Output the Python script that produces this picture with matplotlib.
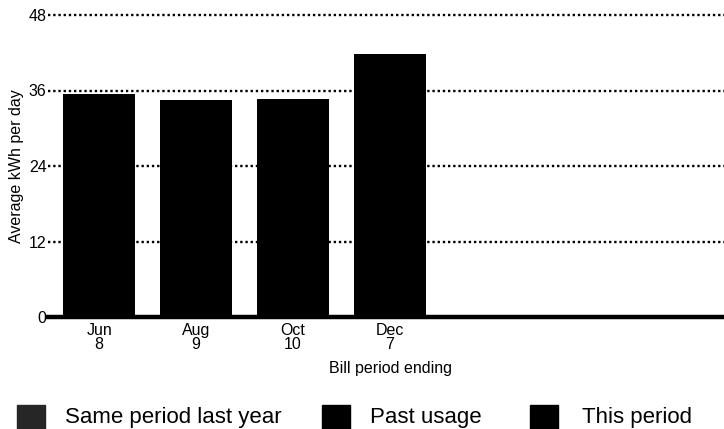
import matplotlib.pyplot as plt
import matplotlib.patches as mpatches

plt.rcParams['font.family'] = ['Liberation Sans', 'DejaVu Sans']

# ================= DATA =================
months = ["Jun", "Aug", "Oct", "Dec"]
days = ["8", "9", "10", "7"]
usage = [35.4, 34.5, 34.6, 41.8]
y_ticks = [0, 12, 24, 36, 48]

legend_labels = ["Same period last year", "Past usage", "This period"]
legend_colors = ["#262626", "#000000", "#000000"]

# ================= PLOT =================
W, H = 724, 429
fig = plt.figure(figsize=(W / 100, H / 100), dpi=100)
ax = fig.add_axes([48 / W, (H - 317) / H, 676 / W, 302 / H])

x = list(range(len(usage)))
for t in y_ticks[1:]:
    ax.axhline(t, color="black", linestyle=(0, (1, 1.2)), linewidth=1.7,
               zorder=1, clip_on=False)
ax.axhline(0, color="black", linewidth=3.2, zorder=3, clip_on=False)
ax.bar(x, usage, width=0.744, color="black", zorder=2)

ax.set_xlim(-0.528, 6.455)
ax.set_ylim(0, 48)
ax.set_yticks(y_ticks)
ax.set_yticklabels([str(t) for t in y_ticks], fontsize=11.5)
ax.set_xticks(x)
ax.set_xticklabels([m + "\n" + d for m, d in zip(months, days)], fontsize=11.5,
                   linespacing=0.95)
ax.tick_params(axis="x", length=0, pad=4)
ax.tick_params(axis="y", length=0, pad=1)
for s in ax.spines.values():
    s.set_visible(False)

ax.set_ylabel("Average kWh per day", fontsize=11.5, labelpad=3)
ax.set_xlabel("Bill period ending", fontsize=11.5, labelpad=3)
ax.xaxis.set_label_coords(0.507, -0.145)

# ================= LEGEND =================
sq_x = [17, 322, 530]
txt_x = [65, 370, 582]
for px, tx, lab, col in zip(sq_x, txt_x, legend_labels, legend_colors):
    fig.patches.append(mpatches.Rectangle((px / W, 0), 28 / W, 24 / H,
                                          transform=fig.transFigure, color=col))
    fig.text(tx / W, 6 / H, lab, fontsize=16, va="baseline", ha="left")

fig.savefig("out.png", dpi=100)
